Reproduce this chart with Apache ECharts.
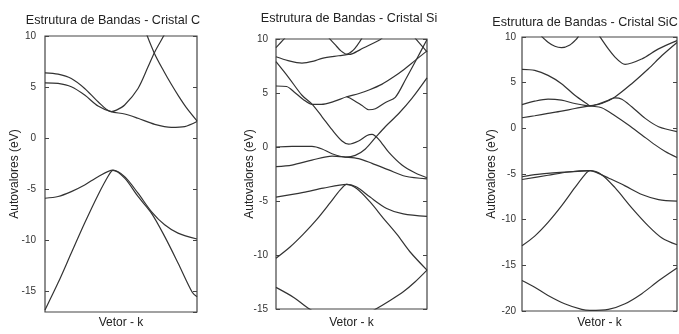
<!DOCTYPE html>
<html>
<head>
<meta charset="utf-8">
<script src="https://cdn.jsdelivr.net/npm/echarts@6/dist/echarts.min.js"></script>
<style>
html,body{margin:0;padding:0;background:#fff;}
#chart{width:679px;height:334px;}
</style>
</head>
<body>
<div id="chart"></div>
<script>
// ---------- Data (k-vector position 0..1, energy in eV) ----------
const titles = ['Estrutura de Bandas - Cristal C', 'Estrutura de Bandas - Cristal Si', 'Estrutura de Bandas - Cristal SiC'];
const yName = 'Autovalores (eV)';
const xName = 'Vetor - k';
const yRanges = [[-17, 10], [-15, 10], [-20, 10]];

// Cristal C
const cB1 = [[0,-16.8],[0.086,-14.15],[0.173,-11.23],[0.261,-8.3],[0.349,-5.55],[0.42,-3.6],[0.447,-3.15],[0.524,-3.9],[0.612,-5.7],[0.7,-7.33],[0.787,-9.6],[0.875,-12.2],[0.97,-15.1],[1.0,-15.5]];
const cB2 = [[0,-5.87],[0.086,-5.7],[0.173,-5.22],[0.261,-4.58],[0.349,-3.76],[0.447,-3.12],[0.524,-3.76],[0.612,-5.38],[0.7,-7.17],[0.787,-8.47],[0.875,-9.28],[1.0,-9.86]];
const cB3 = [[0,5.42],[0.086,5.36],[0.173,5.03],[0.261,4.22],[0.349,3.15],[0.435,2.6],[0.524,2.37],[0.612,1.95],[0.722,1.36],[0.831,1.07],[0.919,1.14],[1.0,1.63]];
const cB4 = [[0,6.4],[0.086,6.27],[0.173,5.84],[0.261,4.87],[0.349,3.57],[0.435,2.6],[0.47,2.75],[0.524,3.25],[0.612,4.87],[0.678,6.98],[0.722,8.44],[0.783,10.07],[0.8,10.6]];
const cB5 = [[0.665,10.3],[0.72,8.3],[0.78,6.6],[0.83,5.3],[0.88,4.1],[0.93,3.0],[1.0,1.7]];

// Cristal Si
const siB1 = [[0,-13.0],[0.12,-13.95],[0.2,-14.8],[0.3,-15.6],[0.47,-16.1],[0.58,-15.6],[0.667,-14.95],[0.75,-14.25],[0.843,-13.4],[0.92,-12.5],[1.0,-11.4]];
const siB2 = [[0,-10.3],[0.093,-9.26],[0.181,-8.07],[0.269,-6.73],[0.358,-5.18],[0.424,-4.0],[0.468,-3.46],[0.534,-3.85],[0.623,-5.09],[0.71,-6.58],[0.8,-8.07],[0.887,-9.7],[1.0,-11.4]];
const siB3 = [[0,-4.64],[0.181,-4.2],[0.313,-3.81],[0.468,-3.46],[0.534,-3.7],[0.623,-4.64],[0.733,-5.69],[0.843,-6.2],[1.0,-6.43]];
const siB4 = [[0,-1.82],[0.106,-1.67],[0.238,-1.22],[0.371,-0.84],[0.46,-0.93],[0.547,-1.07],[0.636,-1.52],[0.746,-2.12],[0.857,-2.71],[1.0,-2.95]];
const siB5 = [[0,0.0],[0.106,0.05],[0.238,0.05],[0.305,-0.18],[0.371,-0.63],[0.46,-0.93],[0.525,-0.78],[0.592,-0.18],[0.658,0.86],[0.725,1.9],[0.813,3.1],[0.9,4.5],[1.0,6.4]];
const siB6 = [[0,7.9],[0.084,6.43],[0.172,4.79],[0.24,3.95],[0.305,2.8],[0.371,1.6],[0.437,0.56],[0.481,0.27],[0.547,0.56],[0.603,1.07],[0.636,1.16],[0.68,0.71],[0.746,-0.48],[0.834,-1.67],[0.923,-2.41],[1.0,-2.85]];
const siB7 = [[0,5.65],[0.07,5.6],[0.12,5.1],[0.18,4.4],[0.24,3.95],[0.3,3.95],[0.38,4.2],[0.468,4.65],[0.55,4.95],[0.62,5.3],[0.7,5.8],[0.78,6.5],[0.85,7.2],[0.92,8.0],[1.0,8.9]];
const siB8 = [[0.468,4.65],[0.503,4.43],[0.57,3.84],[0.614,3.45],[0.658,3.54],[0.725,4.13],[0.79,4.6],[0.86,6.3],[0.93,8.1],[1.0,9.95]];
const siB9 = [[0,8.36],[0.08,8.0],[0.172,7.77],[0.25,7.95],[0.305,8.21],[0.415,8.45],[0.468,8.55],[0.503,8.62],[0.578,9.16],[0.689,9.94],[0.71,10.2]];
const siB10 = [[0.35,10.1],[0.39,9.5],[0.43,8.9],[0.468,8.6],[0.51,8.95],[0.54,9.45],[0.57,10.1]];
const siB11 = [[0,9.2],[0.03,9.65],[0.06,10.1]];
const siB12 = [[0.92,10.1],[0.96,9.45],[1.0,8.8]];

// Cristal SiC
const scB1 = [[0,-16.67],[0.082,-17.4],[0.168,-18.3],[0.275,-19.2],[0.385,-19.82],[0.438,-19.93],[0.557,-19.82],[0.665,-19.2],[0.773,-18.1],[0.881,-16.7],[1.0,-15.3]];
const scB2 = [[0,-12.86],[0.082,-11.8],[0.168,-10.3],[0.255,-8.5],[0.341,-6.5],[0.406,-5.07],[0.438,-4.64],[0.514,-5.07],[0.6,-6.5],[0.708,-8.7],[0.816,-10.7],[0.903,-12.0],[1.0,-12.75]];
const scB3 = [[0,-5.6],[0.168,-5.14],[0.3,-4.78],[0.438,-4.64],[0.514,-5.1],[0.557,-5.43],[0.665,-6.3],[0.773,-7.25],[0.881,-7.8],[1.0,-7.97]];
const scB3b = [[0,-5.3],[0.1,-5.05],[0.2,-4.88],[0.3,-4.76],[0.438,-4.64]];
const scB4 = [[0,1.16],[0.082,1.38],[0.168,1.63],[0.255,1.88],[0.341,2.17],[0.438,2.46],[0.514,2.72],[0.6,3.44],[0.708,4.89],[0.816,6.52],[0.903,7.97],[1.0,9.4]];
const scB5 = [[0,2.6],[0.082,2.97],[0.168,3.19],[0.255,3.08],[0.341,2.72],[0.438,2.46],[0.5,2.7],[0.557,3.08],[0.6,3.33],[0.644,3.19],[0.708,2.36],[0.795,1.09],[0.881,0.18],[1.0,-0.36]];
const scB6 = [[0,6.45],[0.082,6.34],[0.168,5.8],[0.255,4.89],[0.341,3.62],[0.425,2.6],[0.438,2.46],[0.514,2.25],[0.6,1.38],[0.687,0.36],[0.773,-0.72],[0.859,-1.81],[0.924,-2.54],[1.0,-3.2]];
const scB7 = [[0.125,10.1],[0.168,9.42],[0.212,8.98],[0.255,8.84],[0.309,9.13],[0.352,9.78],[0.365,10.1]];
const scB8 = [[0.5,10.1],[0.557,8.7],[0.6,7.8],[0.644,7.14],[0.665,7.0],[0.773,7.6],[0.881,8.7],[1.0,9.6]];

const panelBands = [
  [cB1, cB2, cB3, cB4, cB5],
  [siB1, siB2, siB3, siB4, siB5, siB6, siB7, siB8, siB9, siB10, siB11, siB12],
  [scB1, scB2, scB3, scB3b, scB4, scB5, scB6, scB7, scB8]
];

// ---------- Layout / style ----------
const grids = [
  {left: 45, top: 36, width: 152, height: 276},
  {left: 276, top: 39, width: 151, height: 278},
  {left: 522, top: 37, width: 155, height: 277}
];
const titlePos = [{x: 113, y: 14}, {x: 349, y: 12}, {x: 585, y: 16}];
const yNameGap = [24, 20, 24];
const xNameGap = [5, 8, 6];
const labelMargin = [9, 8, 6];
const ink = '#333';
const fontFam = '"Liberation Sans", Arial, sans-serif';

const option = {
  backgroundColor: '#fff',
  animation: false,
  title: titles.map((t, i) => ({
    text: t, left: titlePos[i].x, top: titlePos[i].y, textAlign: 'center', padding: 0,
    textStyle: {fontSize: 12.6, fontWeight: 'normal', color: '#222', fontFamily: fontFam}
  })),
  grid: grids.map(g => Object.assign({show: true, borderColor: '#444', borderWidth: 1.2, backgroundColor: 'transparent'}, g)),
  xAxis: grids.map((g, i) => ({
    type: 'value', gridIndex: i, min: 0, max: 1,
    axisLine: {show: false}, axisTick: {show: false}, axisLabel: {show: false}, splitLine: {show: false},
    name: xName, nameLocation: 'middle', nameGap: xNameGap[i], nameMoveOverlap: false,
    nameTextStyle: {fontSize: 12, color: '#222', fontFamily: fontFam}
  })),
  yAxis: [],
  series: []
};

grids.forEach((g, i) => {
  const common = {
    type: 'value', gridIndex: i, min: yRanges[i][0], max: yRanges[i][1],
    splitNumber: 5, splitLine: {show: false}, axisLine: {show: false}
  };
  option.yAxis.push(Object.assign({}, common, {
    position: 'left',
    axisTick: {show: true, inside: true, length: 4, lineStyle: {color: '#444', width: 1}},
    axisLabel: {
      show: true, margin: labelMargin[i], fontSize: 10, color: ink, fontFamily: fontFam,
      showMinLabel: yRanges[i][0] % 5 === 0,
      formatter: v => (Math.round(v) % 5 === 0 ? String(v) : '')
    },
    name: yName, nameLocation: 'middle', nameGap: yNameGap[i], nameRotate: 90, nameMoveOverlap: false,
    nameTextStyle: {fontSize: 12, color: '#222', fontFamily: fontFam}
  }));
  option.yAxis.push(Object.assign({}, common, {
    position: 'right',
    axisTick: {show: true, inside: true, length: 4, lineStyle: {color: '#444', width: 1}},
    axisLabel: {show: false}
  }));
});

panelBands.forEach((bands, i) => {
  bands.forEach(b => {
    option.series.push({
      type: 'line', xAxisIndex: i, yAxisIndex: 2 * i, data: b,
      smooth: 0.3, showSymbol: false, symbol: 'none', silent: true, clip: true,
      lineStyle: {color: ink, width: 1.2}
    });
  });
});

const chart = echarts.init(document.getElementById('chart'), null, {renderer: 'canvas'});
chart.setOption(option);
</script>
</body>
</html>
